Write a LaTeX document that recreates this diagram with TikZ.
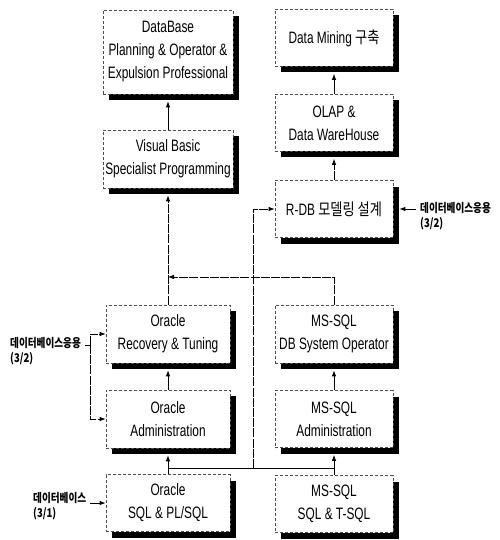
\documentclass[tikz,border=0pt]{standalone}
\usepackage{fontspec}
\setmainfont{Liberation Sans}[FakeStretch=0.72]
\newfontfamily\kor{Noto Sans CJK KR}[FakeStretch=0.8]
\usetikzlibrary{arrows.meta,shadows}

\begin{document}
\begin{tikzpicture}[x=1pt, y=-1pt, >={Latex[length=6pt,width=4.5pt]},
    course/.style={draw=black!70, line width=0.7pt, densely dashed, fill=white,
        align=center, inner sep=2pt, font=\fontsize{16.5}{23}\selectfont,
        drop shadow={shadow xshift=6pt, shadow yshift=-6pt, opacity=1, fill=black}},
    tag/.style={align=left, inner xsep=4pt, inner ysep=0pt,
        font=\kor\bfseries\fontsize{12}{15}\selectfont},
    link/.style={->, line width=0.8pt},
    faint/.style={dash pattern=on 9pt off 1.2pt}]
    \useasboundingbox (0,0) rectangle (499,540);

    % left column
    \node[course, minimum width=130pt, minimum height=84pt] (db) at (168,52)
        {DataBase\\Planning \& Operator \&\\Expulsion Professional};
    \node[course, minimum width=130pt, minimum height=58pt] (vb) at (168,159)
        {Visual Basic\\Specialist Programming};
    \node[course, minimum width=124pt, minimum height=58pt] (orec) at (168,334)
        {Oracle\\Recovery \& Tuning};
    \node[course, minimum width=124pt, minimum height=58pt] (oadm) at (168,419)
        {Oracle\\Administration};
    \node[course, minimum width=124pt, minimum height=57pt] (osql) at (168,503)
        {Oracle\\SQL \& PL/SQL};

    % right column
    \node[course, minimum width=118pt, minimum height=57pt] (mine) at (334,38)
        {Data Mining {\kor 구축}};
    \node[course, minimum width=118pt, minimum height=57pt] (olap) at (334,123)
        {OLAP \&\\Data WareHouse};
    \node[course, minimum width=118pt, minimum height=57pt] (rdb) at (334,209)
        {R-DB {\kor 모델링 설계}};
    \node[course, minimum width=118pt, minimum height=58pt] (mdbs) at (334,334)
        {MS-SQL\\DB System Operator};
    \node[course, minimum width=118pt, minimum height=57pt] (madm) at (334,419)
        {MS-SQL\\Administration};
    \node[course, minimum width=118pt, minimum height=57pt] (msql) at (334,504)
        {MS-SQL\\SQL \& T-SQL};

    % side labels
    \node[tag, anchor=north west] (app1) at (6,337) {데이터베이스응용\\(3/2)};
    \node[tag, anchor=north west] (app2) at (416,202) {데이터베이스응용\\(3/2)};
    \node[tag, anchor=north west] (base) at (29,492) {데이터베이스\\(3/1)};

    \coordinate (upj) at (168,277);
    \coordinate (lowj) at (253,468);
    \coordinate (fork) at (90,345);

    % vertical flow
    \draw[link, shorten >=7pt] (vb.north) -- (db.south);
    \draw[link, faint, shorten >=7pt] (orec.north) -- (vb.south);
    \draw[link, shorten >=7pt] (oadm.north) -- (orec.south);
    \draw[link, shorten >=7pt] (osql.north) -- (oadm.south);
    \draw[link, shorten >=7pt] (olap.north) -- (mine.south);
    \draw[link, faint, shorten >=7pt] (rdb.north) -- (olap.south);
    \draw[link, shorten >=7pt] (madm.north) -- (mdbs.south);
    \draw[link, shorten >=7pt] (msql.north) -- (madm.south);

    % joins
    \draw[link, faint] (mdbs.north) |- (upj);
    \draw[line width=0.8pt] (osql.north |- lowj) -- (msql.north |- lowj);
    \draw[link, faint] (lowj) |- (rdb.west);

    % labels
    \draw[line width=0.8pt] (fork) -- (fork -| app1.east);
    \draw[link, faint] (fork) |- (orec.west);
    \draw[link, faint] (fork) |- (oadm.west);
    \draw[link, shorten >=6pt] (app2.west |- rdb.east) -- (rdb.east);
    \draw[link] (base.east |- osql.west) -- (osql.west);
\end{tikzpicture}
\end{document}
